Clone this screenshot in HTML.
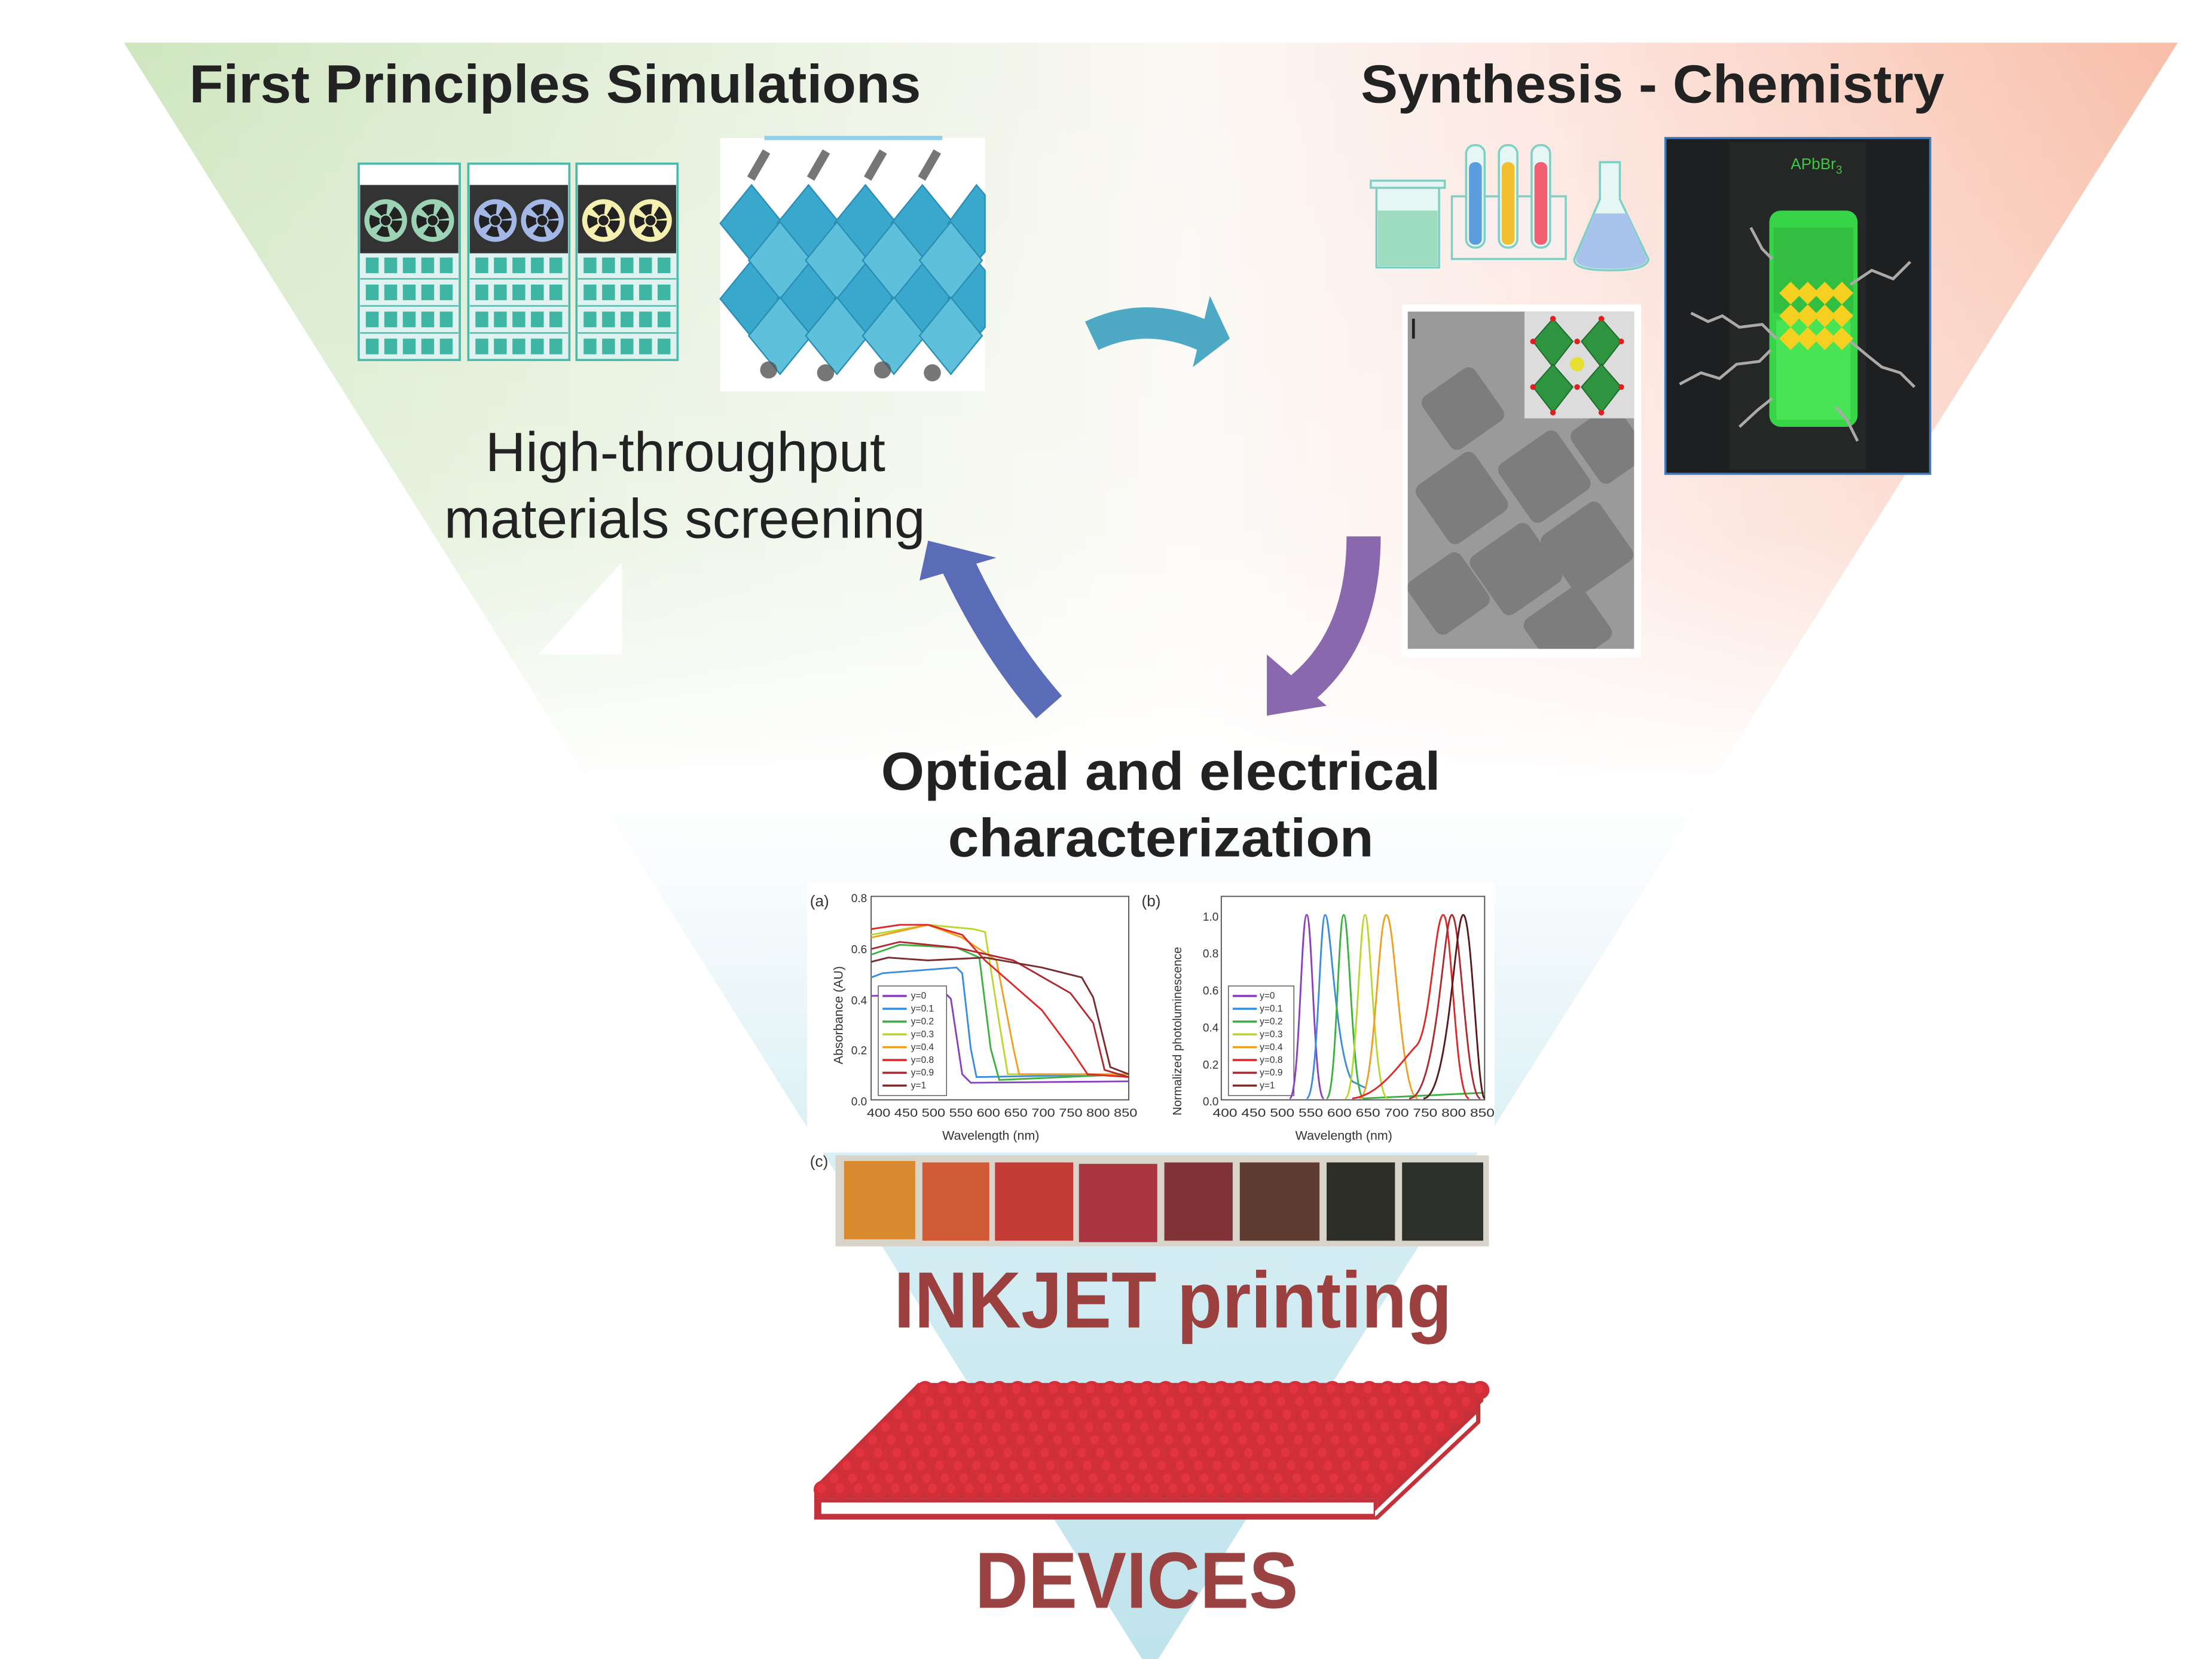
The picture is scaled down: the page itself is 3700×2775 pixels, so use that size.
<!DOCTYPE html>
<html><head><meta charset="utf-8"><style>
html,body{margin:0;padding:0;background:#fff}
svg{display:block}
text{font-family:"Liberation Sans",sans-serif}
</style></head><body>
<svg width="3700" height="2775" viewBox="0 0 1554 1166" preserveAspectRatio="none" xmlns="http://www.w3.org/2000/svg">
<defs>
<linearGradient id="hg" x1="0" y1="0" x2="1" y2="0">
<stop offset="0" stop-color="#cfe6bf"/><stop offset="0.3" stop-color="#e8f2e0"/><stop offset="0.52" stop-color="#fbf8f4"/><stop offset="0.7" stop-color="#fde6e0"/><stop offset="1" stop-color="#f8bea8"/>
</linearGradient>
<linearGradient id="vg" x1="0" y1="30" x2="0" y2="1175" gradientUnits="userSpaceOnUse">
<stop offset="0" stop-color="#fff" stop-opacity="0"/><stop offset="0.3" stop-color="#fff" stop-opacity="0.35"/><stop offset="0.46" stop-color="#fff" stop-opacity="1"/><stop offset="0.54" stop-color="#f4fafc"/><stop offset="0.7" stop-color="#d6eef4"/><stop offset="1" stop-color="#bfe3ec"/>
</linearGradient>
<clipPath id="temclip"><rect x="989" y="219" width="159" height="237"/></clipPath>
<g id="bump"><circle cx="0" cy="0" r="6.4" fill="#d22f39"/><ellipse cx="-1" cy="-1" rx="3" ry="3.4" fill="#e3353f"/></g>
<g id="brow">
<use href="#bump" x="0"/><use href="#bump" x="13"/><use href="#bump" x="26"/><use href="#bump" x="39"/><use href="#bump" x="52"/><use href="#bump" x="65"/><use href="#bump" x="78"/><use href="#bump" x="91"/><use href="#bump" x="104"/><use href="#bump" x="117"/><use href="#bump" x="130"/><use href="#bump" x="143"/><use href="#bump" x="156"/><use href="#bump" x="169"/><use href="#bump" x="182"/><use href="#bump" x="195"/><use href="#bump" x="208"/><use href="#bump" x="221"/><use href="#bump" x="234"/><use href="#bump" x="247"/><use href="#bump" x="260"/><use href="#bump" x="273"/><use href="#bump" x="286"/><use href="#bump" x="299"/><use href="#bump" x="312"/><use href="#bump" x="325"/><use href="#bump" x="338"/><use href="#bump" x="351"/><use href="#bump" x="364"/><use href="#bump" x="377"/><use href="#bump" x="390"/>
</g>
</defs>

<polygon points="87,30 1530,30 808,1175" fill="url(#hg)"/>
<polygon points="87,30 1530,30 808,1175" fill="url(#vg)"/>
<polygon points="437,395 437,460 378,460" fill="#fff"/>

<text x="133" y="72" font-size="38" font-weight="bold" fill="#222" textLength="514" lengthAdjust="spacingAndGlyphs">First Principles Simulations</text>
<text x="956" y="72" font-size="38" font-weight="bold" fill="#222" textLength="410" lengthAdjust="spacingAndGlyphs">Synthesis - Chemistry</text>
<text x="341" y="331" font-size="39" fill="#222" textLength="281" lengthAdjust="spacingAndGlyphs">High-throughput</text>
<text x="312" y="378" font-size="39" fill="#222" textLength="338" lengthAdjust="spacingAndGlyphs">materials screening</text>
<text x="619" y="555" font-size="38" font-weight="bold" fill="#222" textLength="393" lengthAdjust="spacingAndGlyphs">Optical and electrical</text>
<text x="666" y="602" font-size="38" font-weight="bold" fill="#222" textLength="299" lengthAdjust="spacingAndGlyphs">characterization</text>
<text x="628" y="933" font-size="56" font-weight="bold" fill="#9b3f3f" textLength="392" lengthAdjust="spacingAndGlyphs">INKJET printing</text>
<text x="685" y="1130" font-size="56" font-weight="bold" fill="#9b4242" textLength="227" lengthAdjust="spacingAndGlyphs">DEVICES</text>

<g id="rack">
<rect x="252" y="115" width="71" height="138" fill="#dff2f0" stroke="#4bb8aa" stroke-width="1.5"/>
<rect x="253" y="116" width="69" height="14" fill="#fff"/>
<rect x="253" y="130" width="69" height="48" fill="#333"/>
<g fill="#3fb5a3">
<rect x="257" y="181" width="9" height="11"/><rect x="270" y="181" width="9" height="11"/><rect x="283" y="181" width="9" height="11"/><rect x="296" y="181" width="9" height="11"/><rect x="309" y="181" width="9" height="11"/>
<rect x="257" y="200" width="9" height="11"/><rect x="270" y="200" width="9" height="11"/><rect x="283" y="200" width="9" height="11"/><rect x="296" y="200" width="9" height="11"/><rect x="309" y="200" width="9" height="11"/>
<rect x="257" y="219" width="9" height="11"/><rect x="270" y="219" width="9" height="11"/><rect x="283" y="219" width="9" height="11"/><rect x="296" y="219" width="9" height="11"/><rect x="309" y="219" width="9" height="11"/>
<rect x="257" y="238" width="9" height="11"/><rect x="270" y="238" width="9" height="11"/><rect x="283" y="238" width="9" height="11"/><rect x="296" y="238" width="9" height="11"/><rect x="309" y="238" width="9" height="11"/>
</g>
<g stroke="#4bb8aa" stroke-width="1"><line x1="253" y1="196" x2="322" y2="196"/><line x1="253" y1="215" x2="322" y2="215"/><line x1="253" y1="234" x2="322" y2="234"/></g>
</g>
<use href="#rack" x="77"/><use href="#rack" x="153"/>
<g stroke="#222" stroke-width="7" stroke-dasharray="7 3.5">
<circle cx="271" cy="155" r="15" fill="#9bd3b4" stroke="none"/><circle cx="271" cy="155" r="8" fill="none"/><circle cx="271" cy="155" r="3.5" fill="#222" stroke="none"/>
<circle cx="304" cy="155" r="15" fill="#9bd3b4" stroke="none"/><circle cx="304" cy="155" r="8" fill="none"/><circle cx="304" cy="155" r="3.5" fill="#222" stroke="none"/>
<circle cx="348" cy="155" r="15" fill="#a3b8e6" stroke="none"/><circle cx="348" cy="155" r="8" fill="none"/><circle cx="348" cy="155" r="3.5" fill="#222" stroke="none"/>
<circle cx="381" cy="155" r="15" fill="#a3b8e6" stroke="none"/><circle cx="381" cy="155" r="8" fill="none"/><circle cx="381" cy="155" r="3.5" fill="#222" stroke="none"/>
<circle cx="424" cy="155" r="15" fill="#f6f0b0" stroke="none"/><circle cx="424" cy="155" r="8" fill="none"/><circle cx="424" cy="155" r="3.5" fill="#222" stroke="none"/>
<circle cx="457" cy="155" r="15" fill="#f6f0b0" stroke="none"/><circle cx="457" cy="155" r="8" fill="none"/><circle cx="457" cy="155" r="3.5" fill="#222" stroke="none"/>
</g>

<rect x="506" y="97" width="186" height="178" fill="#fff"/>
<line x1="537" y1="97" x2="662" y2="97" stroke="#8fd0ec" stroke-width="3"/>
<g fill="#3aa8cc" stroke="#2a8fb4" stroke-width="1">
<polygon points="528,130 550,157 528,184 506,157"/><polygon points="568,130 590,157 568,184 546,157"/><polygon points="608,130 630,157 608,184 586,157"/><polygon points="648,130 670,157 648,184 626,157"/><polygon points="686,130 692,137 692,177 686,184 666,157"/>
<polygon points="528,183 550,210 528,237 506,210"/><polygon points="568,183 590,210 568,237 546,210"/><polygon points="608,183 630,210 608,237 586,210"/><polygon points="648,183 670,210 648,237 626,210"/><polygon points="686,183 692,190 692,230 686,237 666,210"/>
<polygon points="548,156 570,183 548,210 526,183" fill="#5fc0dc"/><polygon points="588,156 610,183 588,210 566,183" fill="#5fc0dc"/><polygon points="628,156 650,183 628,210 606,183" fill="#5fc0dc"/><polygon points="668,156 690,183 668,210 646,183" fill="#5fc0dc"/>
<polygon points="548,209 570,236 548,263 526,236" fill="#5fc0dc"/><polygon points="588,209 610,236 588,263 566,236" fill="#5fc0dc"/><polygon points="628,209 650,236 628,263 606,236" fill="#5fc0dc"/><polygon points="668,209 690,236 668,263 646,236" fill="#5fc0dc"/>
</g>
<g fill="#555" opacity="0.8">
<rect x="530" y="105" width="6" height="22" transform="rotate(30 533 116)"/><rect x="572" y="105" width="6" height="22" transform="rotate(30 575 116)"/><rect x="612" y="105" width="6" height="22" transform="rotate(30 615 116)"/><rect x="650" y="105" width="6" height="22" transform="rotate(30 653 116)"/>
<circle cx="540" cy="260" r="6"/><circle cx="580" cy="262" r="6"/><circle cx="620" cy="260" r="6"/><circle cx="655" cy="262" r="6"/>
</g>

<rect x="967" y="132" width="44" height="56" fill="#e6f6f4" stroke="#7fd0c4" stroke-width="1.5"/>
<rect x="963" y="127" width="52" height="5" fill="#e6f6f4" stroke="#7fd0c4" stroke-width="1.5"/>
<rect x="968" y="148" width="42" height="39" fill="#9edcc0"/>
<rect x="1020" y="138" width="80" height="44" fill="#fbeeee" stroke="#7fd0c4" stroke-width="1.5"/>
<rect x="1030" y="102" width="13" height="72" rx="6" fill="#e6f6f4" stroke="#7fd0c4" stroke-width="1.5"/>
<rect x="1032" y="114" width="9" height="58" rx="4" fill="#5a9ee0"/>
<rect x="1053" y="102" width="13" height="72" rx="6" fill="#e6f6f4" stroke="#7fd0c4" stroke-width="1.5"/>
<rect x="1055" y="114" width="9" height="58" rx="4" fill="#f0c030"/>
<rect x="1076" y="102" width="13" height="72" rx="6" fill="#e6f6f4" stroke="#7fd0c4" stroke-width="1.5"/>
<rect x="1078" y="114" width="9" height="58" rx="4" fill="#f06070"/>
<path d="M1124,114 L1138,114 L1138,140 L1158,182 Q1158,190 1131,190 Q1105,190 1106,182 L1124,140 Z" fill="#e6f6f4" stroke="#7fd0c4" stroke-width="1.5"/>
<path d="M1120,150 L1143,150 L1157,182 Q1157,189 1131,189 Q1107,189 1107,182 Z" fill="#a8c4ec"/>

<rect x="1170" y="97" width="186" height="236" fill="#1e1f20" stroke="#3a7ac0" stroke-width="1.5"/>
<rect x="1215" y="100" width="96" height="230" fill="#252626"/>
<rect x="1243" y="148" width="62" height="152" rx="8" fill="#38d448"/>
<rect x="1246" y="160" width="56" height="60" fill="#2aa83a" opacity="0.5"/>
<rect x="1248" y="225" width="52" height="70" fill="#55ee60" opacity="0.6"/>
<g fill="#f5d020">
<polygon points="1258,198 1266,206 1258,214 1250,206"/><polygon points="1270,198 1278,206 1270,214 1262,206"/><polygon points="1282,198 1290,206 1282,214 1274,206"/><polygon points="1294,198 1302,206 1294,214 1286,206"/>
<polygon points="1258,214 1266,222 1258,230 1250,222"/><polygon points="1270,214 1278,222 1270,230 1262,222"/><polygon points="1282,214 1290,222 1282,230 1274,222"/><polygon points="1294,214 1302,222 1294,230 1286,222"/>
<polygon points="1258,230 1266,238 1258,246 1250,238"/><polygon points="1270,230 1278,238 1270,246 1262,238"/><polygon points="1282,230 1290,238 1282,246 1274,238"/><polygon points="1294,230 1302,238 1294,246 1286,238"/>
</g>
<g stroke="#aaa" stroke-width="2" fill="none">
<polyline points="1188,220 1200,226 1210,222 1222,230 1238,228 1248,238"/>
<polyline points="1180,270 1195,262 1208,266 1220,256 1236,254 1244,246"/>
<polyline points="1300,200 1315,190 1330,196 1342,184"/>
<polyline points="1300,240 1312,250 1322,258 1335,262 1345,272"/>
<polyline points="1230,160 1238,175 1245,182"/>
<polyline points="1222,300 1235,288 1245,280"/>
<polyline points="1305,310 1298,296 1290,286"/>
</g>
<text x="1258" y="119" font-size="11" fill="#3cc840">APbBr<tspan font-size="8" dy="3">3</tspan></text>

<rect x="985" y="214" width="168" height="248" fill="#fff"/>
<rect x="989" y="219" width="159" height="237" fill="#9a9a9a"/>
<g fill="#7d7d7d" clip-path="url(#temclip)">
<rect x="1005" y="265" width="45" height="45" rx="6" transform="rotate(-35 1027 287)"/>
<rect x="1060" y="310" width="50" height="50" rx="6" transform="rotate(-35 1085 335)"/>
<rect x="1002" y="325" width="50" height="50" rx="6" transform="rotate(-35 1027 350)"/>
<rect x="1090" y="360" width="50" height="50" rx="6" transform="rotate(-35 1115 385)"/>
<rect x="1040" y="375" width="50" height="50" rx="6" transform="rotate(-35 1065 400)"/>
<rect x="995" y="395" width="45" height="45" rx="6" transform="rotate(-35 1017 417)"/>
<rect x="1075" y="420" width="50" height="45" rx="6" transform="rotate(-35 1100 440)"/>
<rect x="1110" y="290" width="40" height="45" rx="6" transform="rotate(-35 1130 312)"/>
</g>
<rect x="992" y="224" width="2" height="14" fill="#222"/>
<rect x="1071" y="219" width="77" height="75" fill="#dcdcdc"/>
<g fill="#2e9440" stroke="#1d6a2c" stroke-width="0.8">
<polygon points="1091,224 1105,240 1091,258 1077,240"/><polygon points="1125,224 1139,240 1125,258 1111,240"/>
<polygon points="1091,256 1105,272 1091,290 1077,272"/><polygon points="1125,256 1139,272 1125,290 1111,272"/>
</g>
<circle cx="1108" cy="256" r="5" fill="#e8e030"/>
<g fill="#e02020"><circle cx="1091" cy="224" r="2"/><circle cx="1125" cy="224" r="2"/><circle cx="1077" cy="240" r="2"/><circle cx="1139" cy="240" r="2"/><circle cx="1077" cy="272" r="2"/><circle cx="1139" cy="272" r="2"/><circle cx="1091" cy="290" r="2"/><circle cx="1125" cy="290" r="2"/><circle cx="1108" cy="240" r="2"/><circle cx="1108" cy="272" r="2"/></g>

<path d="M767,236 Q805,218 846,236" fill="none" stroke="#4eaac4" stroke-width="22"/>
<polygon points="850,208 864,238 838,258" fill="#4eaac4"/>
<path d="M958,377 Q958,450 912,486" fill="none" stroke="#8a68ae" stroke-width="24"/>
<polygon points="890,460 890,503 932,496" fill="#8a68ae"/>
<path d="M737,497 Q700,455 672,395" fill="none" stroke="#5a6cb8" stroke-width="24"/>
<polygon points="652,380 700,392 646,408" fill="#5a6cb8"/>

<rect x="567" y="620" width="483" height="190" fill="#fff"/>
<g font-size="8" fill="#333">
<text x="569" y="637" font-size="11">(a)</text>
<text x="802" y="637" font-size="11">(b)</text>
<text x="569" y="820" font-size="11">(c)</text>
<text x="598" y="634">0.8</text><text x="598" y="670">0.6</text><text x="598" y="706">0.4</text><text x="598" y="741">0.2</text><text x="598" y="777">0.0</text>
<text x="845" y="647">1.0</text><text x="845" y="673">0.8</text><text x="845" y="699">0.6</text><text x="845" y="725">0.4</text><text x="845" y="751">0.2</text><text x="845" y="777">0.0</text>
<text x="609" y="785" textLength="190" lengthAdjust="spacingAndGlyphs">400 450 500 550 600 650 700 750 800 850</text>
<text x="852" y="785" textLength="198" lengthAdjust="spacingAndGlyphs">400 450 500 550 600 650 700 750 800 850</text>
<text x="662" y="801" font-size="9">Wavelength (nm)</text>
<text x="910" y="801" font-size="9">Wavelength (nm)</text>
<text transform="translate(592,748) rotate(-90)" font-size="9">Absorbance (AU)</text>
<text transform="translate(830,784) rotate(-90)" font-size="8.5">Normalized photoluminescence</text>
</g>
<rect x="612" y="630" width="181" height="143" fill="none" stroke="#555" stroke-width="0.8"/>
<rect x="858" y="630" width="185" height="143" fill="none" stroke="#555" stroke-width="0.8"/>
<g fill="none" stroke-width="1.2">
<polyline stroke="#8a3fc0" points="612,700 664,698 668,702 676,755 682,761 793,760"/>
<polyline stroke="#3a8ce0" points="612,687 620,684 672,680 676,684 682,737 686,757 793,755"/>
<polyline stroke="#3cb040" points="612,671 632,664 672,666 688,673 696,737 702,759 793,755"/>
<polyline stroke="#b8d830" points="612,657 652,650 684,653 692,655 702,719 708,755 793,755"/>
<polyline stroke="#f0a020" points="612,659 652,650 676,659 700,675 712,737 716,755 793,755"/>
<polyline stroke="#e02828" points="612,653 632,650 652,650 676,657 692,675 732,710 752,737 764,755 793,757"/>
<polyline stroke="#b02830" points="612,667 632,662 672,666 712,675 752,698 768,719 776,752 793,757"/>
<polyline stroke="#7a2a2a" points="612,676 624,673 652,675 692,673 732,680 760,687 768,701 780,750 793,755"/>
</g>
<rect x="617" y="693" width="48" height="77" fill="#fff" stroke="#555" stroke-width="0.6"/>
<rect x="863" y="693" width="46" height="77" fill="#fff" stroke="#555" stroke-width="0.6"/>
<g font-size="6.5" fill="#333">
<text x="640" y="702">y=0</text><text x="640" y="711">y=0.1</text><text x="640" y="720">y=0.2</text><text x="640" y="729">y=0.3</text><text x="640" y="738">y=0.4</text><text x="640" y="747">y=0.8</text><text x="640" y="756">y=0.9</text><text x="640" y="765">y=1</text>
<text x="885" y="702">y=0</text><text x="885" y="711">y=0.1</text><text x="885" y="720">y=0.2</text><text x="885" y="729">y=0.3</text><text x="885" y="738">y=0.4</text><text x="885" y="747">y=0.8</text><text x="885" y="756">y=0.9</text><text x="885" y="765">y=1</text>
</g>
<g stroke-width="1.5">
<line x1="620" y1="700" x2="637" y2="700" stroke="#8a3fc0"/><line x1="620" y1="709" x2="637" y2="709" stroke="#3a8ce0"/><line x1="620" y1="718" x2="637" y2="718" stroke="#3cb040"/><line x1="620" y1="727" x2="637" y2="727" stroke="#b8d830"/><line x1="620" y1="736" x2="637" y2="736" stroke="#f0a020"/><line x1="620" y1="745" x2="637" y2="745" stroke="#e02828"/><line x1="620" y1="754" x2="637" y2="754" stroke="#b02830"/><line x1="620" y1="763" x2="637" y2="763" stroke="#7a2a2a"/>
<line x1="866" y1="700" x2="883" y2="700" stroke="#8a3fc0"/><line x1="866" y1="709" x2="883" y2="709" stroke="#3a8ce0"/><line x1="866" y1="718" x2="883" y2="718" stroke="#3cb040"/><line x1="866" y1="727" x2="883" y2="727" stroke="#b8d830"/><line x1="866" y1="736" x2="883" y2="736" stroke="#f0a020"/><line x1="866" y1="745" x2="883" y2="745" stroke="#e02828"/><line x1="866" y1="754" x2="883" y2="754" stroke="#b02830"/><line x1="866" y1="763" x2="883" y2="763" stroke="#7a2a2a"/>
</g>
<g fill="none" stroke-width="1.2">
<path stroke="#8a3fc0" d="M906,772 C913,772 914,643 918,643 C922,643 923,772 930,772"/>
<path stroke="#3a8ce0" d="M918,772 C926,772 927,643 931,643 C935,643 938,740 950,760 L960,765"/>
<path stroke="#3cb040" d="M932,772 C939,772 940,643 944,643 C948,643 950,772 958,772 L1043,768"/>
<path stroke="#b8d830" d="M945,772 C953,772 955,643 959,643 C963,643 965,772 975,772"/>
<path stroke="#f0a020" d="M955,772 C966,772 968,643 974,643 C980,643 984,772 996,772"/>
<path stroke="#e02828" d="M950,772 C970,770 985,745 995,735 C1005,725 1008,643 1014,643 C1020,643 1022,772 1032,772"/>
<path stroke="#b02830" d="M990,772 C1010,772 1014,643 1020,643 C1026,643 1030,772 1040,772"/>
<path stroke="#5a1818" d="M1000,772 C1018,772 1022,643 1028,643 C1034,643 1038,772 1043,772"/>
</g>

<rect x="587" y="812" width="459" height="64" fill="#d8d4ca"/>
<rect x="593" y="816" width="50" height="55" fill="#d98a30"/>
<rect x="648" y="817" width="47" height="55" fill="#d05a35"/>
<rect x="699" y="817" width="55" height="55" fill="#c23b35"/>
<rect x="758" y="818" width="55" height="55" fill="#a83540"/>
<rect x="818" y="817" width="48" height="55" fill="#7f3336"/>
<rect x="871" y="817" width="56" height="55" fill="#5e3b30"/>
<rect x="932" y="817" width="48" height="55" fill="#2e2e28"/>
<rect x="985" y="817" width="57" height="55" fill="#2c302a"/>

<!-- printed plate -->
<polygon points="572,1053 968,1053 968,1068 572,1068" fill="#c3323a"/>
<rect x="577" y="1056" width="388" height="8" fill="#fff"/>
<polygon points="968,1068 968,1053 1040,985 1040,1000" fill="#c3323a"/>
<polygon points="966,1062 1037,994 1037,999 966,1066" fill="#fff"/>
<polygon points="645,972 1042,972 1042,985 968,1053 572,1053 572,1045" fill="#c3323a"/>
<use href="#brow" transform="translate(650,977)"/>
<use href="#brow" transform="translate(641,986)"/>
<use href="#brow" transform="translate(632,995)"/>
<use href="#brow" transform="translate(623,1004)"/>
<use href="#brow" transform="translate(614,1013)"/>
<use href="#brow" transform="translate(605,1022)"/>
<use href="#brow" transform="translate(596,1031)"/>
<use href="#brow" transform="translate(587,1040)"/>
<use href="#brow" transform="translate(578,1047)"/>
<polygon points="960,1053 1045,972 1060,972 1060,1053" fill="#fff" opacity="0"/>
</svg>
</body></html>
